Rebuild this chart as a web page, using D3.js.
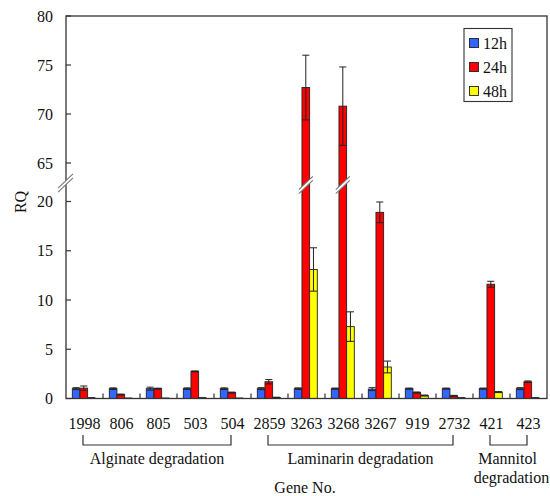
<!DOCTYPE html>
<html>
<head>
<meta charset="utf-8">
<script src="https://cdn.jsdelivr.net/npm/d3@7/dist/d3.min.js"></script>
<style>
  html, body { margin: 0; padding: 0; background: #fff; }
  svg { display: block; }
</style>
</head>
<body>
<svg id="chart" width="550" height="496"></svg>
<script>
// ---- data ----
const genes = ["1998","806","805","503","504","2859","3263","3268","3267","919","2732","421","423"];
const seriesNames = ["12h","24h","48h"];
const v12 = [1.0,1.0,1.0,1.0,1.0,1.0,1.0,1.0,0.95,1.0,1.0,1.0,1.0];
const e12 = [0.1,0.08,0.15,0.08,0.08,0.1,0.08,0.06,0.15,0.06,0.06,0.06,0.1];
const v24 = [1.05,0.4,1.0,2.75,0.6,1.7,72.7,70.8,18.9,0.6,0.27,11.6,1.7];
const e24 = [0.22,0.05,0.05,0.05,0.05,0.22,3.3,4.0,1.05,0.06,0.05,0.3,0.08];
const v48 = [0.05,0.02,0.02,0.05,0.02,0.1,13.1,7.3,3.2,0.3,0.05,0.65,0.05];
const e48 = [0.02,0.01,0.01,0.02,0.01,0.03,2.2,1.5,0.6,0.05,0.02,0.05,0.02];
const lowerTicks = [0,5,10,15,20];
const upperTicks = [65,70,75,80];
const groups = [
  {name:["Alginate degradation"], from:"1998", to:"504"},
  {name:["Laminarin degradation"], from:"2859", to:"2732"},
  {name:["Mannitol","degradation"], from:"421", to:"423"}
];
const colors = ["#3366ff","#ff0000","#ffff00"];

// ---- layout ----
const FONT = "'Liberation Serif', 'DejaVu Serif', serif";
const svg = d3.select("#chart").attr("font-family", FONT).style("font-family", FONT);
const L = 66, R = 547, T = 16, B = 398.5;
const x = d3.scaleBand().domain(genes).range([L, R]).padding(0);
const xs = d3.scaleBand().domain(seriesNames).range([6.3, 29.3]).padding(0);
const y = d3.scaleLinear().domain([0, 22, 63, 80]).range([B, 181.8, 182.6, T]);

const values = [v12, v24, v48];
const errs = [e12, e24, e48];

const barData = [];
genes.forEach((g, i) => {
  seriesNames.forEach((s, k) => {
    barData.push({g, s, k, v: values[k][i], e: errs[k][i]});
  });
});

const gBars = svg.append("g");
gBars.selectAll("rect").data(barData).join("rect")
  .attr("x", d => x(d.g) + xs(d.s))
  .attr("width", xs.bandwidth())
  .attr("y", d => y(d.v))
  .attr("height", d => Math.max(0, y(0) - y(d.v)))
  .attr("fill", d => colors[d.k])
  .attr("stroke", "#222")
  .attr("stroke-width", 0.9);

const gErr = svg.append("g").attr("stroke", "#222").attr("stroke-width", 1);
barData.forEach(d => {
  const cx = x(d.g) + xs(d.s) + xs.bandwidth() / 2;
  const hw = xs.bandwidth() / 2 - 0.3;
  const y1 = y(d.v + d.e), y2 = y(Math.max(0, d.v - d.e));
  gErr.append("line").attr("x1", cx).attr("x2", cx).attr("y1", y1).attr("y2", y2);
  gErr.append("line").attr("x1", cx - hw).attr("x2", cx + hw).attr("y1", y1).attr("y2", y1);
  gErr.append("line").attr("x1", cx - hw).attr("x2", cx + hw).attr("y1", y2).attr("y2", y2);
});

function breakMark(cx, cy, half) {
  const g = svg.append("g");
  const dx = half, dy = half * 0.95, gap = 4;
  g.append("path")
    .attr("d", `M${cx-dx},${cy+dy} L${cx+dx},${cy-dy} L${cx+dx},${cy-dy+gap} L${cx-dx},${cy+dy+gap} Z`)
    .attr("fill", "#fff");
  g.append("line").attr("x1", cx-dx).attr("y1", cy+dy).attr("x2", cx+dx).attr("y2", cy-dy)
    .attr("stroke", "#777").attr("stroke-width", 1.1);
  g.append("line").attr("x1", cx-dx).attr("y1", cy+dy+gap).attr("x2", cx+dx).attr("y2", cy-dy+gap)
    .attr("stroke", "#777").attr("stroke-width", 1.1);
}

svg.append("rect").attr("x", L).attr("y", T).attr("width", R - L).attr("height", B - T)
  .attr("fill", "none").attr("stroke", "#333").attr("stroke-width", 1.3);

barData.filter(d => d.v > 22).forEach(d => {
  const cx = x(d.g) + xs(d.s) + xs.bandwidth() / 2;
  breakMark(cx, 183, 7);
});

const gy = svg.append("g");
lowerTicks.concat(upperTicks).forEach(t => {
  gy.append("line").attr("x1", L).attr("x2", L + 5).attr("y1", y(t)).attr("y2", y(t))
    .attr("stroke", "#333").attr("stroke-width", 1.2);
  gy.append("text").attr("x", 53).attr("y", y(t)).attr("dy", "0.35em")
    .attr("text-anchor", "end").attr("font-size", 16).attr("fill", "#111").text(t);
});
breakMark(65.5, 181, 7.5);

genes.slice(1).forEach(g => {
  svg.append("line").attr("x1", x(g)).attr("x2", x(g)).attr("y1", B).attr("y2", B - 5)
    .attr("stroke", "#333").attr("stroke-width", 1.2);
});

genes.forEach(g => {
  svg.append("text").attr("x", x(g) + x.bandwidth() / 2).attr("y", 428.5)
    .attr("text-anchor", "middle").attr("font-size", 16).attr("fill", "#111").text(g);
});

groups.forEach(gr => {
  const x1 = x(gr.from) + x.bandwidth() / 2 - 1.5;
  const x2 = x(gr.to) + x.bandwidth() / 2 - 1.5;
  svg.append("path").attr("d", `M${x1},435 V445 H${x2} V435`)
    .attr("fill", "none").attr("stroke", "#333").attr("stroke-width", 1.2);
  const cx = (x1 + x2) / 2;
  gr.name.forEach((line, j) => {
    svg.append("text").attr("x", cx + (gr.name.length > 1 ? (j === 0 ? -1 : 3) : 0))
      .attr("y", 463.5 + j * 19).attr("text-anchor", "middle").attr("font-size", 16)
      .attr("fill", "#111").text(line);
  });
});

svg.append("text").attr("x", 305).attr("y", 493).attr("text-anchor", "middle")
  .attr("font-size", 16).attr("fill", "#111").text("Gene No.");
svg.append("text").attr("transform", "translate(26,202) rotate(-90)")
  .attr("text-anchor", "middle").attr("font-size", 16).attr("fill", "#111").text("RQ");

const lg = svg.append("g");
lg.append("rect").attr("x", 464).attr("y", 28.5).attr("width", 48).attr("height", 73)
  .attr("fill", "#fff").attr("stroke", "#333").attr("stroke-width", 1.1);
seriesNames.forEach((s, k) => {
  const cy = 43 + k * 24;
  lg.append("rect").attr("x", 469.5).attr("y", cy - 4.5).attr("width", 9).attr("height", 9)
    .attr("fill", colors[k]).attr("stroke", "#222").attr("stroke-width", 0.9);
  lg.append("text").attr("x", 483).attr("y", cy).attr("dy", "0.35em")
    .attr("font-size", 16).attr("fill", "#111").text(s);
});
</script>
</body>
</html>
